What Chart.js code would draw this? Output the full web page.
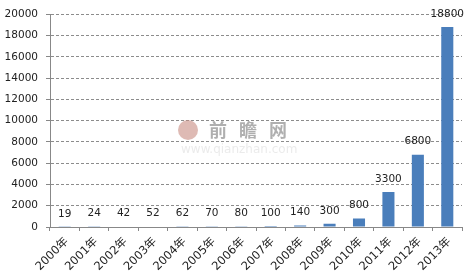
<!DOCTYPE html>
<html>
<head>
<meta charset="utf-8">
<script src="https://cdn.jsdelivr.net/npm/chart.js@4/dist/chart.umd.min.js"></script>
<style>
html,body{margin:0;padding:0;background:#fff;}
#wrap{width:472px;height:280px;position:relative;}
</style>
</head>
<body>
<div id="wrap"><canvas id="c" width="472" height="280"></canvas></div>
<script>
const categories = ["2000年","2001年","2002年","2003年","2004年","2005年","2006年","2007年","2008年","2009年","2010年","2011年","2012年","2013年"];
const values = [19,24,42,52,62,70,80,100,140,300,800,3300,6800,18800];
const yTicks = [0,2000,4000,6000,8000,10000,12000,14000,16000,18000,20000];

const FONT = '"DejaVu Sans", "Noto Sans CJK SC", sans-serif';

const valueLabels = {
  id: 'valueLabels',
  afterDatasetsDraw(chart) {
    const ctx = chart.ctx;
    const meta = chart.getDatasetMeta(0);
    ctx.save();
    ctx.font = '10.5px ' + FONT;
    ctx.fillStyle = '#222';
    ctx.textAlign = 'center';
    ctx.textBaseline = 'middle';
    meta.data.forEach((bar, i) => {
      ctx.fillText(String(values[i]), bar.x, bar.y - 13);
    });
    ctx.restore();
  }
};

const watermark = {
  id: 'watermark',
  beforeDatasetsDraw(chart) {
    const ctx = chart.ctx;
    ctx.save();
    ctx.fillStyle = 'rgba(200,140,130,0.6)';
    ctx.beginPath();
    ctx.ellipse(188, 130, 10, 10, 0, 0, Math.PI * 2);
    ctx.fill();
    ctx.fillStyle = 'rgba(110,110,110,0.55)';
    ctx.font = 'bold 18px "Noto Sans CJK SC", sans-serif';
    ctx.textAlign = 'left';
    ctx.textBaseline = 'middle';
    const chars = ['前','瞻','网'];
    chars.forEach((ch, i) => ctx.fillText(ch, 209 + i * 30, 130));
    ctx.fillStyle = 'rgba(215,215,215,0.5)';
    ctx.font = '12px "DejaVu Sans", sans-serif';
    ctx.fillText('www.qianzhan.com', 181, 150);
    ctx.restore();
  }
};

new Chart(document.getElementById('c'), {
  type: 'bar',
  data: {
    labels: categories,
    datasets: [{
      data: values,
      backgroundColor: '#4a7ebb',
      borderWidth: 0,
      barPercentage: 0.41,
      categoryPercentage: 1.0
    }]
  },
  options: {
    responsive: false,
    animation: false,
    devicePixelRatio: 1,
    layout: { padding: { top: 12, right: 10, left: 0, bottom: 0 } },
    plugins: { legend: { display: false }, tooltip: { enabled: false } },
    scales: {
      x: {
        afterFit(s) { s.height = 53; },
        grid: { drawOnChartArea: false, drawTicks: true, tickLength: 4, color: '#888', offset: true },
        border: { color: '#888', width: 1 },
        ticks: {
          minRotation: 45, maxRotation: 45, autoSkip: false,
          font: { family: FONT, size: 11.5 }, color: '#222', padding: 4, labelOffset: 2
        }
      },
      y: {
        min: 0, max: 20000,
        afterFit(s) { s.width = 50; },
        afterBuildTicks(s) { s.ticks = yTicks.map(v => ({ value: v })); },
        grid: { color: '#8c8c8c', tickColor: '#888', tickBorderDash: [], tickLength: 4, drawTicks: true },
        border: { color: '#888', width: 1, dash: [3, 2] },
        ticks: { font: { family: FONT, size: 10.5 }, color: '#222', padding: 8, callback: (v) => String(v) }
      }
    }
  },
  plugins: [watermark, valueLabels]
});
</script>
</body>
</html>
